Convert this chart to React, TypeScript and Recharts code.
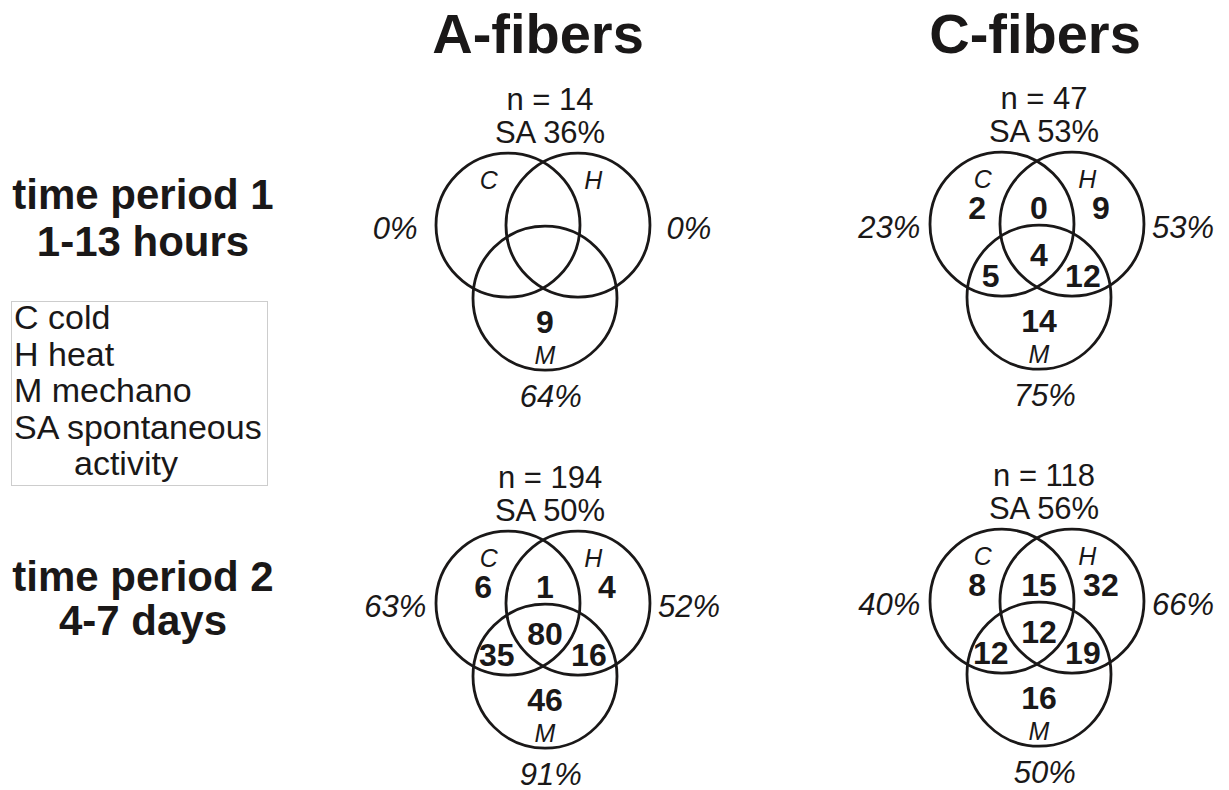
import React from 'react';
import { ScatterChart, Scatter, XAxis, YAxis } from 'recharts';

// ---- data ----
const FIBERS = ['A-fibers', 'C-fibers'];
const PERIODS = [
  ['time period 1', '1-13 hours'],
  ['time period 2', '4-7 days'],
];
const LEGEND = ['C cold', 'H heat', 'M mechano', 'SA spontaneous', 'activity'];

// panel order: A period 1, C period 1, A period 2, C period 2
const N_TOTAL = [14, 47, 194, 118];
const SA_PCT = [36, 53, 50, 56];
const PCT_C = [0, 23, 63, 40];
const PCT_H = [0, 53, 52, 66];
const PCT_M = [64, 75, 91, 50];

// units per Venn region (null = nothing printed)
const COUNT_C = [null, 2, 6, 8];
const COUNT_CH = [null, 0, 1, 15];
const COUNT_H = [null, 9, 4, 32];
const COUNT_CHM = [null, 4, 80, 12];
const COUNT_CM = [null, 5, 35, 12];
const COUNT_HM = [null, 12, 16, 19];
const COUNT_M = [9, 14, 46, 16];

// ---- Venn layout (unit = circle radius) ----
const SETS = [
  { name: 'C', x: -0.514, y: 0, r: 1 },
  { name: 'H', x: 0.458, y: 0, r: 1 },
  { name: 'M', x: 0, y: -1.014, r: 1 },
];
const ANCHOR: Record<string, [number, number]> = {
  n: [0.07, 1.6],
  sa: [0.07, 1.14],
  setC: [-0.78, 0.5],
  setH: [0.67, 0.5],
  setM: [0, -1.93],
  c: [-0.86, 0.07],
  ch: [0, 0.07],
  h: [0.86, 0.07],
  chm: [0, -0.58],
  cm: [-0.67, -0.875],
  hm: [0.61, -0.875],
  m: [0, -1.5],
  pctC: [-2.08, -0.19],
  pctH: [2.0, -0.19],
  pctM: [0.08, -2.53],
};

const X_DOMAIN: [number, number] = [-3, 3];
const Y_DOMAIN: [number, number] = [-2.9, 2.1];
const UNIT = 72;
const CHART_W = (X_DOMAIN[1] - X_DOMAIN[0]) * UNIT;
const CHART_H = (Y_DOMAIN[1] - Y_DOMAIN[0]) * UNIT;
const PANEL_ORIGINS: [number, number][] = [
  [544.5, 225],
  [1039, 224.5],
  [545, 603],
  [1039, 601],
];

const FONT = 'Arial, "Liberation Sans", Helvetica, sans-serif';
const INK = '#1a1818';

type Label = { x: number; y: number; text: string; kind: 'head' | 'set' | 'count' | 'pct' };

function panelLabels(i: number): Label[] {
  const out: Label[] = [];
  const add = (key: string, text: string | null, kind: Label['kind']) => {
    if (text === null) return;
    const [x, y] = ANCHOR[key];
    out.push({ x, y, text, kind });
  };
  const num = (v: number | null) => (v === null ? null : String(v));
  add('n', `n = ${N_TOTAL[i]}`, 'head');
  add('sa', `SA ${SA_PCT[i]}%`, 'head');
  add('setC', 'C', 'set');
  add('setH', 'H', 'set');
  add('setM', 'M', 'set');
  add('c', num(COUNT_C[i]), 'count');
  add('ch', num(COUNT_CH[i]), 'count');
  add('h', num(COUNT_H[i]), 'count');
  add('chm', num(COUNT_CHM[i]), 'count');
  add('cm', num(COUNT_CM[i]), 'count');
  add('hm', num(COUNT_HM[i]), 'count');
  add('m', num(COUNT_M[i]), 'count');
  add('pctC', `${PCT_C[i]}%`, 'pct');
  add('pctH', `${PCT_H[i]}%`, 'pct');
  add('pctM', `${PCT_M[i]}%`, 'pct');
  return out;
}

const renderCircle = (props: any) => {
  const { cx, cy, payload } = props;
  return <circle cx={cx} cy={cy} r={payload.r * UNIT} fill="none" stroke={INK} strokeWidth={2.8} />;
};

const LABEL_STYLE: Record<Label['kind'], React.SVGProps<SVGTextElement>> = {
  head: { fontSize: 31, fontWeight: 400, fontStyle: 'normal' },
  set: { fontSize: 25, fontWeight: 400, fontStyle: 'italic' },
  count: { fontSize: 32, fontWeight: 700, fontStyle: 'normal' },
  pct: { fontSize: 31, fontWeight: 400, fontStyle: 'italic' },
};

const renderLabel = (props: any) => {
  const { cx, cy, payload } = props;
  return (
    <text x={cx} y={cy} textAnchor="middle" fill={INK} fontFamily={FONT} {...LABEL_STYLE[payload.kind as Label['kind']]}>
      {payload.text}
    </text>
  );
};

function VennPanel({ index }: { index: number }) {
  const [ox, oy] = PANEL_ORIGINS[index];
  const left = ox + X_DOMAIN[0] * UNIT;
  const top = oy - Y_DOMAIN[1] * UNIT;
  return (
    <div style={{ position: 'absolute', left, top, width: CHART_W, height: CHART_H }}>
      <ScatterChart width={CHART_W} height={CHART_H} margin={{ top: 0, right: 0, bottom: 0, left: 0 }}>
        <XAxis type="number" dataKey="x" domain={X_DOMAIN} hide allowDataOverflow />
        <YAxis type="number" dataKey="y" domain={Y_DOMAIN} hide allowDataOverflow />
        <Scatter data={SETS} shape={renderCircle} isAnimationActive={false} />
        <Scatter data={panelLabels(index)} shape={renderLabel} isAnimationActive={false} />
      </ScatterChart>
    </div>
  );
}

export default function App() {
  return (
    <div style={{ position: 'absolute', left: 0, top: 0, width: 1229, height: 790, background: '#fff', fontFamily: FONT }}>
      <svg width={1229} height={790} style={{ position: 'absolute', left: 0, top: 0 }}>
        {/* column titles */}
        <text x={538} y={53} textAnchor="middle" fontSize={56} fontWeight={700} fill={INK} fontFamily={FONT}>
          {FIBERS[0]}
        </text>
        <text x={1035} y={53} textAnchor="middle" fontSize={56} fontWeight={700} fill={INK} fontFamily={FONT}>
          {FIBERS[1]}
        </text>

        {/* row labels */}
        <text x={143} y={209} textAnchor="middle" fontSize={42} fontWeight={700} fill={INK} fontFamily={FONT}>
          {PERIODS[0][0]}
        </text>
        <text x={143} y={256} textAnchor="middle" fontSize={42} fontWeight={700} fill={INK} fontFamily={FONT}>
          {PERIODS[0][1]}
        </text>
        <text x={143} y={591} textAnchor="middle" fontSize={42} fontWeight={700} fill={INK} fontFamily={FONT}>
          {PERIODS[1][0]}
        </text>
        <text x={143} y={635} textAnchor="middle" fontSize={42} fontWeight={700} fill={INK} fontFamily={FONT}>
          {PERIODS[1][1]}
        </text>

        {/* legend box */}
        <rect x={11.5} y={301.5} width={256} height={184} fill="none" stroke="#9a9a9a" strokeWidth={1} strokeDasharray="1 1" />
        {LEGEND.map((t, k) => (
          <text key={t} x={k === 4 ? 74 : 14} y={329 + k * 36.5} fontSize={34} fill={INK} fontFamily={FONT}>
            {t}
          </text>
        ))}
      </svg>
      {[0, 1, 2, 3].map((i) => (
        <VennPanel key={i} index={i} />
      ))}
    </div>
  );
}
